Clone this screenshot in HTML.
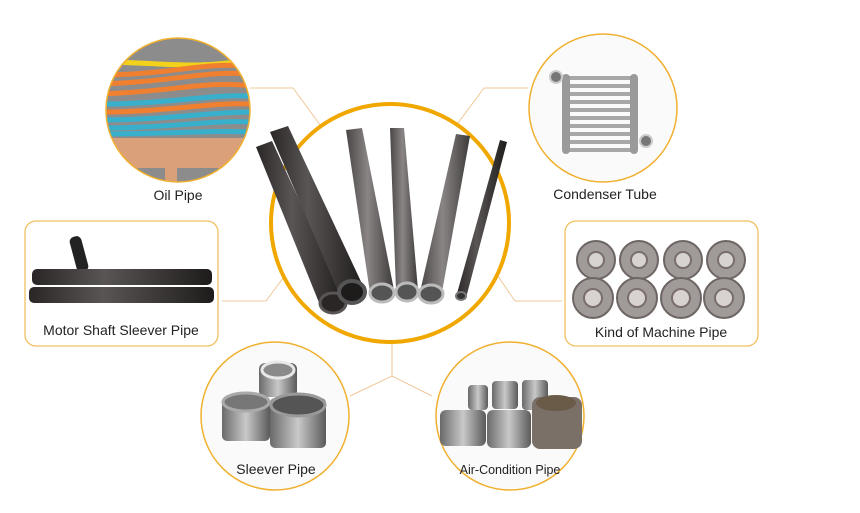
<!DOCTYPE html>
<html><head><meta charset="utf-8"><style>
html,body{margin:0;padding:0;background:#fff;width:860px;height:513px;overflow:hidden}
svg{display:block}
text{font-family:"Liberation Sans",sans-serif;fill:#222}
</style></head><body>
<svg width="860" height="513" viewBox="0 0 860 513" xmlns="http://www.w3.org/2000/svg">
<defs>
<linearGradient id="dk" x1="0" x2="1"><stop offset="0" stop-color="#2a2626"/><stop offset=".4" stop-color="#5a5555"/><stop offset="1" stop-color="#1e1b1b"/></linearGradient>
<linearGradient id="gr" x1="0" x2="1"><stop offset="0" stop-color="#4a4646"/><stop offset=".45" stop-color="#8a8585"/><stop offset="1" stop-color="#3d3a3a"/></linearGradient>
<linearGradient id="sl" x1="0" x2="1"><stop offset="0" stop-color="#6a6a6a"/><stop offset=".5" stop-color="#c9c9c9"/><stop offset="1" stop-color="#5a5a5a"/></linearGradient>
<clipPath id="c1"><circle cx="178" cy="110" r="72"/></clipPath>
<clipPath id="cc"><circle cx="390" cy="223" r="118"/></clipPath>
</defs>

<!-- connectors -->
<g stroke="#f0c89a" stroke-width="1" fill="none">
<polyline points="250,88 293,88 340,152"/>
<polyline points="528,88 484,88 438,150"/>
<polyline points="222,301 266,301 298,258"/>
<polyline points="562,301 515,301 480,250"/>
<polyline points="392,306 392,376"/>
<polyline points="350,396 392,376 432,396"/>
</g>

<!-- oil pipe -->
<g clip-path="url(#c1)">
<rect x="100" y="36" width="160" height="150" fill="#8c8c8c"/>
<rect x="100" y="138" width="160" height="30" fill="#d9a07a"/>
<rect x="165" y="160" width="12" height="30" fill="#d9a07a"/>
<g stroke-width="5" fill="none" stroke-linecap="round">
<path d="M100,62 C160,62 190,70 250,60" stroke="#f2d21a"/>
<path d="M100,75 C170,75 200,62 250,66" stroke="#f08030"/>
<path d="M100,84 C170,82 210,70 250,74" stroke="#f08030"/>
<path d="M100,94 C170,92 210,80 250,86" stroke="#f08030"/>
<path d="M100,104 C170,104 210,94 250,96" stroke="#38b0cc"/>
<path d="M100,112 C170,112 210,102 250,104" stroke="#f08030"/>
<path d="M100,120 C170,120 210,112 250,112" stroke="#38b0cc"/>
<path d="M100,128 C170,128 210,120 250,122" stroke="#38b0cc"/>
<path d="M100,134 C170,134 210,130 250,132" stroke="#38b0cc"/>
</g>
</g>
<circle cx="178" cy="110" r="72" fill="none" stroke="#f0b030" stroke-width="1.5"/>
<text x="178" y="200" font-size="14" text-anchor="middle">Oil Pipe</text>

<!-- condenser -->
<circle cx="603" cy="108" r="74" fill="#fafafa" stroke="#f0b030" stroke-width="1.5"/>
<g fill="none" stroke="#a8a8a8" stroke-width="4">
<path d="M565,78 h70"/><path d="M565,86 h70"/><path d="M565,94 h70"/><path d="M565,102 h70"/><path d="M565,110 h70"/><path d="M565,118 h70"/><path d="M565,126 h70"/><path d="M565,134 h70"/><path d="M565,142 h70"/><path d="M565,150 h70"/>
</g>
<rect x="562" y="74" width="8" height="80" rx="4" fill="#9a9a9a"/>
<rect x="630" y="74" width="8" height="80" rx="4" fill="#9a9a9a"/>
<circle cx="556" cy="77" r="6" fill="#777" stroke="#ccc" stroke-width="2"/>
<circle cx="646" cy="141" r="6" fill="#777" stroke="#ccc" stroke-width="2"/>
<text x="605" y="199" font-size="14" text-anchor="middle">Condenser Tube</text>

<!-- motor box -->
<rect x="25" y="221" width="193" height="125" rx="11" fill="#fff" stroke="#f0c060" stroke-width="1.3"/>
<rect x="73" y="236" width="12" height="36" rx="5" fill="#222" transform="rotate(-15 79 254)"/>
<rect x="32" y="269" width="180" height="16" rx="5" fill="url(#dk)"/>
<rect x="29" y="287" width="185" height="16" rx="5" fill="url(#dk)"/>
<text x="121" y="335" font-size="14" text-anchor="middle">Motor Shaft Sleever Pipe</text>

<!-- machine box -->
<rect x="565" y="221" width="193" height="125" rx="11" fill="#fff" stroke="#f0c060" stroke-width="1.3"/>
<g fill="#a09a98" stroke="#6e6664" stroke-width="2">
<circle cx="596" cy="260" r="19"/><circle cx="639" cy="260" r="19"/><circle cx="683" cy="260" r="19"/><circle cx="726" cy="260" r="19"/>
<circle cx="593" cy="298" r="20"/><circle cx="637" cy="298" r="20"/><circle cx="681" cy="298" r="20"/><circle cx="724" cy="298" r="20"/>
</g>
<g fill="#d8d2d0" stroke="#7a6e6c" stroke-width="2">
<circle cx="596" cy="260" r="8"/><circle cx="639" cy="260" r="8"/><circle cx="683" cy="260" r="8"/><circle cx="726" cy="260" r="8"/>
<circle cx="593" cy="298" r="9"/><circle cx="637" cy="298" r="9"/><circle cx="681" cy="298" r="9"/><circle cx="724" cy="298" r="9"/>
</g>
<text x="661" y="337" font-size="14" text-anchor="middle">Kind of Machine Pipe</text>

<!-- center -->
<circle cx="390" cy="223" r="119" fill="#fff" stroke="#f0a800" stroke-width="4"/>
<g>
<polygon points="256,147 272,141 346,302 322,310" fill="url(#dk)"/>
<polygon points="270,132 288,126 364,288 340,296" fill="url(#dk)"/>
<ellipse cx="333" cy="303" rx="13" ry="10" fill="#2a2626" stroke="#5a5555" stroke-width="3"/>
<ellipse cx="352" cy="292" rx="13" ry="11" fill="#1e1b1b" stroke="#555" stroke-width="4"/>
<polygon points="346,130 362,128 394,290 370,293" fill="url(#gr)"/>
<ellipse cx="382" cy="293" rx="12" ry="9" fill="#555" stroke="#bbb" stroke-width="3"/>
<polygon points="390,128 404,128 418,290 396,290" fill="url(#gr)"/>
<ellipse cx="407" cy="292" rx="11" ry="9" fill="#555" stroke="#bbb" stroke-width="3"/>
<polygon points="456,134 470,136 442,292 420,292" fill="url(#gr)"/>
<ellipse cx="431" cy="294" rx="12" ry="9" fill="#555" stroke="#bbb" stroke-width="3"/>
<polygon points="500,140 507,142 466,298 456,297" fill="url(#dk)"/>
<ellipse cx="461" cy="296" rx="5" ry="4" fill="#333" stroke="#777" stroke-width="2"/>
</g>

<!-- sleever -->
<circle cx="275" cy="416" r="74" fill="#fafafa" stroke="#f0b030" stroke-width="1.5"/>
<rect x="259" y="363" width="38" height="34" rx="6" fill="url(#sl)"/>
<ellipse cx="278" cy="370" rx="16" ry="8" fill="#8a8a8a" stroke="#e8e8e8" stroke-width="3"/>
<rect x="222" y="397" width="48" height="44" rx="5" fill="url(#sl)"/>
<ellipse cx="246" cy="402" rx="23" ry="9" fill="#777" stroke="#aaa" stroke-width="3"/>
<rect x="270" y="398" width="56" height="50" rx="5" fill="url(#sl)"/>
<ellipse cx="298" cy="405" rx="27" ry="11" fill="#555" stroke="#999" stroke-width="3"/>
<text x="276" y="474" font-size="14" text-anchor="middle">Sleever Pipe</text>

<!-- air-condition -->
<circle cx="510" cy="416" r="74" fill="#fafafa" stroke="#f0b030" stroke-width="1.5"/>
<g fill="url(#sl)">
<rect x="468" y="385" width="20" height="25" rx="4"/>
<rect x="492" y="381" width="26" height="28" rx="4"/>
<rect x="522" y="380" width="26" height="30" rx="4"/>
<rect x="440" y="410" width="46" height="36" rx="6"/>
<rect x="487" y="410" width="44" height="38" rx="6"/>
<rect x="532" y="397" width="50" height="52" rx="8" fill="#7a7068"/>
</g>
<ellipse cx="556" cy="403" rx="20" ry="8" fill="#6a5a48"/>
<text x="510" y="474" font-size="12.5" text-anchor="middle">Air-Condition Pipe</text>
</svg>
</body></html>
